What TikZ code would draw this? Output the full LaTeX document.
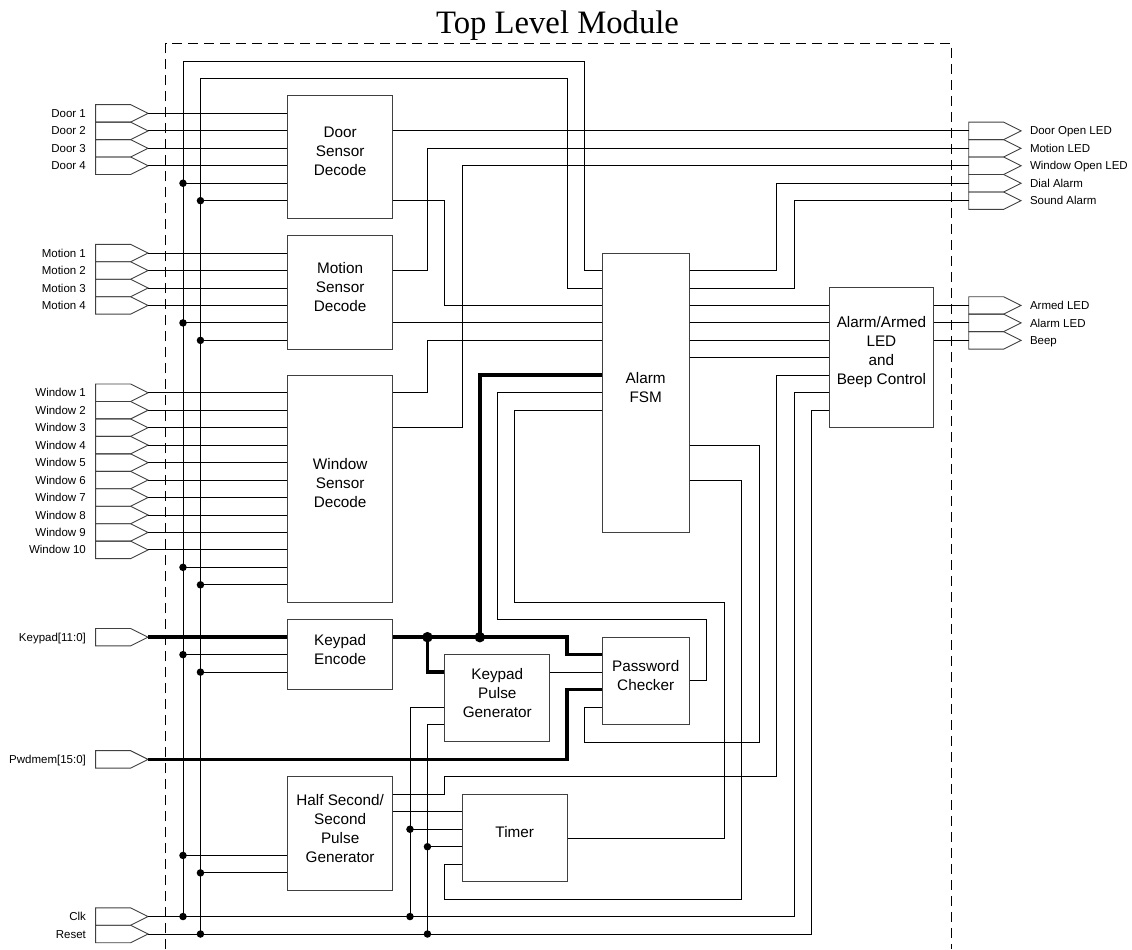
\documentclass[tikz,border=0pt]{standalone}
\usepackage{fontspec}
\setmainfont{Liberation Sans}
\newfontfamily\titlefont{Liberation Serif}
\usetikzlibrary{fit}
\begin{document}
\begin{tikzpicture}[x=17.46pt,y=-17.46pt,
  wire/.style={line width=0.9pt, black},
  bus/.style={line width=3.6pt, black},
  blk/.style={draw=black!75, line width=1pt, fill=white, align=center,
    font=\fontsize{15.3}{19}\selectfont, inner sep=0pt},
  conn/.style={draw=black!75, line width=0.9pt},
  lbl/.style={font=\fontsize{11.5}{12}\selectfont, inner sep=0pt},
  dot/.style={circle, fill=black, inner sep=0pt, minimum size=7.5pt},
  bigdot/.style={circle, fill=black, inner sep=0pt, minimum size=10.5pt},
  frame/.style={black, line width=0.9pt, dash pattern=on 10pt off 6pt},
]
\useasboundingbox (-10.481,-3.494) rectangle (54.353,50.859);

% title and module frame
\node[font=\titlefont\fontsize{32.7}{36}\selectfont, anchor=base, inner sep=0pt] (title) at (21.45,-1.55) {Top Level Module};
\draw[frame] (-1,50.86) -- (-1,-1) -- (44,-1) -- (44,50.86);

% blocks
\node[blk, fit={(6,2) (12,9)}] (door) {Door\\Sensor\\Decode};
\node[blk, fit={(6,10) (12,16.5)}] (motion) {Motion\\Sensor\\Decode};
\node[blk, fit={(6,18) (12,31)}] (window) {Window\\Sensor\\Decode};
\node[blk, fit={(6,32) (12,36)}] (kenc) {Keypad\\Encode};
\node[blk, fit={(6,41) (12,47.5)}] (hspg) {Half Second/\\Second\\Pulse\\Generator};
\node[blk, fit={(24,11) (29,27)}] (fsm) {Alarm\\FSM};
\node[blk, fit={(37,13) (43,21)}] (led) {Alarm/Armed\\LED\\and\\Beep Control};
\node[blk, fit={(15,34) (21,39)}] (kpg) {Keypad\\Pulse\\Generator};
\node[blk, fit={(24,33) (29,38)}] (pwd) {Password\\Checker};
\node[blk, fit={(16,42) (22,47)}] (timer) {Timer};

% input ports
\foreach \y/\t [count=\i] in {3/Door 1,4/Door 2,5/Door 3,6/Door 4,
  11/Motion 1,12/Motion 2,13/Motion 3,14/Motion 4,
  19/Window 1,20/Window 2,21/Window 3,22/Window 4,23/Window 5,24/Window 6,
  25/Window 7,26/Window 8,27/Window 9,28/Window 10,
  33/{Keypad[11:0]},40/{Pwdmem[15:0]},49/Clk,50/Reset}{
  \draw[conn] (-5,\y-.5) -- (-3,\y-.5) -- (-2,\y) -- (-3,\y+.5) -- (-5,\y+.5) -- cycle;
  \coordinate (in\i) at (-2,\y);
  \node[lbl, anchor=base east] (inl\i) at (-5.55,\y+0.235) {\t};
}
% output ports
\foreach \y/\t [count=\i] in {4/Door Open LED,5/Motion LED,6/Window Open LED,7/Dial Alarm,8/Sound Alarm,
  14/Armed LED,15/Alarm LED,16/Beep}{
  \draw[conn] (45,\y-.5) -- (47,\y-.5) -- (48,\y) -- (47,\y+.5) -- (45,\y+.5) -- cycle;
  \coordinate (out\i) at (45,\y);
  \node[lbl, anchor=base west] (outl\i) at (48.5,\y+0.235) {\t};
}

% sensor inputs
\foreach \i in {1,...,4}{\draw[wire] (in\i) -- (door.west |- in\i);}
\foreach \i in {5,...,8}{\draw[wire] (in\i) -- (motion.west |- in\i);}
\foreach \i in {9,...,18}{\draw[wire] (in\i) -- (window.west |- in\i);}

% clock and reset distribution
\draw[wire] (in21) -- (35,49) -- (35,19) -- (led.west |- 0,19);
\draw[wire] (in22) -- (36,50) -- (36,20) -- (led.west |- 0,20);
\draw[wire] (0,49) -- (0,0) -- (23,0) -- (23,12) -- (fsm.west |- 0,12);
\draw[wire] (1,50) -- (1,1) -- (22,1) -- (22,13) -- (fsm.west |- 0,13);
\foreach \c/\r/\b in {7/8/door,15/16/motion,29/30/window,34/35/kenc,45.5/46.5/hspg}{
  \draw[wire] (0,\c) -- (\b.west |- 0,\c);
  \draw[wire] (1,\r) -- (\b.west |- 0,\r);
  \node[dot] at (0,\c) {};
  \node[dot] at (1,\r) {};
}
\draw[wire] (kpg.west |- 0,37) -- (13,37) -- (13,49);
\draw[wire] (13,44) -- (timer.west |- 0,44);
\draw[wire] (kpg.west |- 0,38) -- (14,38) -- (14,50);
\draw[wire] (14,45) -- (timer.west |- 0,45);
\foreach \p in {(0,49),(1,50),(13,44),(14,45),(13,49),(14,50)}{\node[dot] at \p {};}

% decoder outputs
\draw[wire] (door.east |- 0,4) -- (out1);
\draw[wire] (door.east |- 0,8) -- (15,8) -- (15,14) -- (fsm.west |- 0,14);
\draw[wire] (motion.east |- 0,12) -- (14,12) -- (14,5) -- (out2);
\draw[wire] (motion.east |- 0,15) -- (fsm.west |- 0,15);
\draw[wire] (window.east |- 0,19) -- (14,19) -- (14,16) -- (fsm.west |- 0,16);
\draw[wire] (window.east |- 0,21) -- (16,21) -- (16,6) -- (out3);

% FSM outputs
\draw[wire] (fsm.east |- 0,12) -- (34,12) -- (34,7) -- (out4);
\draw[wire] (fsm.east |- 0,13) -- (35,13) -- (35,8) -- (out5);
\foreach \y in {14,15,16,17}{\draw[wire] (fsm.east |- 0,\y) -- (led.west |- 0,\y);}
\draw[wire] (led.east |- 0,14) -- (out6);
\draw[wire] (led.east |- 0,15) -- (out7);
\draw[wire] (led.east |- 0,16) -- (out8);
\draw[wire] (fsm.east |- 0,22) -- (33,22) -- (33,39) -- (23,39) -- (23,37) -- (pwd.west |- 0,37);
\draw[wire] (fsm.east |- 0,24) -- (32,24) -- (32,48) -- (15,48) -- (15,46) -- (timer.west |- 0,46);

% feedback paths
\draw[wire] (timer.east |- 0,44.5) -- (31,44.5) -- (31,31) -- (19,31) -- (19,20) -- (fsm.west |- 0,20);
\draw[wire] (pwd.east |- 0,35.5) -- (30,35.5) -- (30,32) -- (18,32) -- (18,19) -- (fsm.west |- 0,19);
\draw[wire] (hspg.east |- 0,42) -- (15,42) -- (15,41) -- (34,41) -- (34,18) -- (led.west |- 0,18);
\draw[wire] (hspg.east |- 0,43) -- (timer.west |- 0,43);
\draw[wire] (kpg.east |- 0,35) -- (pwd.west |- 0,35);

% buses
\draw[bus] (in19) -- (kenc.west |- in19);
\draw[bus] (kenc.east |- 0,33) -- (22,33) -- (22,34) -- (pwd.west |- 0,34);
\draw[bus] (14,33) -- (14,35) -- (kpg.west |- 0,35);
\draw[bus] (17,33) -- (17,18) -- (fsm.west |- 0,18);
\draw[bus] (in20) -- (22,40) -- (22,36) -- (pwd.west |- 0,36);
\node[bigdot] at (14,33) {};
\node[bigdot] at (17,33) {};
\end{tikzpicture}
\end{document}
